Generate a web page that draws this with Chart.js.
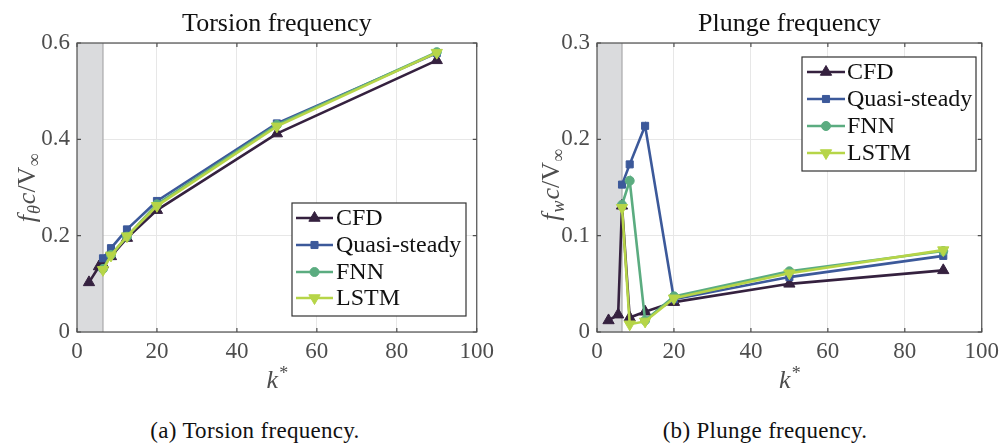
<!DOCTYPE html>
<html>
<head>
<meta charset="utf-8">
<script src="https://cdn.jsdelivr.net/npm/chart.js@4/dist/chart.umd.min.js"></script>
<style>
  html, body { margin: 0; padding: 0; background: #fff; }
  #wrap { position: relative; width: 1005px; height: 448px; overflow: hidden; }
  canvas { position: absolute; top: 0; }
  .cap { position: absolute; top: 418px; font-family: "Liberation Serif", serif; font-size: 23px; letter-spacing: 0.3px; color: #111; white-space: nowrap; transform: translateX(-50%); }
  .pre { position: absolute; left: -9999px; font-family: "Liberation Serif"; }
</style>
</head>
<body>
<div id="wrap">
  <canvas id="c1" width="500" height="400" style="left:0;width:500px;height:400px"></canvas>
  <canvas id="c2" width="505" height="400" style="left:500px;width:505px;height:400px"></canvas>
  <div class="cap" style="left:255px">(a) Torsion frequency.</div>
  <div class="cap" style="left:765px">(b) Plunge frequency.</div>
  <span class="pre">x<i>x</i></span>
</div>
<script>
// ---------- data ----------
const seriesNames = ["CFD", "Quasi-steady", "FNN", "LSTM"];
const kCFD   = [3, 5.5, 6.5, 8.5, 12.5, 20, 50, 90];
const kModel = [6.5, 8.5, 12.5, 20, 50, 90];

const torsionCFD  = [0.103, 0.136, 0.140, 0.157, 0.195, 0.253, 0.412, 0.564];
const torsionQS   = [0.153, 0.174, 0.213, 0.272, 0.433, 0.579];
const torsionFNN  = [0.131, 0.160, 0.198, 0.265, 0.430, 0.581];
const torsionLSTM = [0.129, 0.159, 0.199, 0.262, 0.427, 0.580];

const plungeCFD  = [0.012, 0.018, 0.131, 0.015, 0.021, 0.031, 0.050, 0.064];
const plungeQS   = [0.153, 0.174, 0.214, 0.034, 0.057, 0.079];
const plungeFNN  = [0.132, 0.157, 0.012, 0.037, 0.063, 0.084];
const plungeLSTM = [0.129, 0.008, 0.011, 0.035, 0.061, 0.085];

const shadedMaxK = 6.5;
const xTicksMax = 100;

// ---------- styles ----------
const colors = ["#35213f", "#3c599a", "#5bac80", "#b6d548"];
const pStyles = ["triangle", "rect", "circle", "triangle"];
const pRot = [0, 0, 0, 180];
const pRad = [6.5, 5, 4.5, 6.5];
const SERIF = '"Liberation Serif", "Times New Roman", serif';
const frameColor = "#4f4f4f";
const tickColor = "#4d4d4d";

function pts(xs, ys) { return xs.map((x, i) => ({ x: x, y: ys[i] })); }

function makeDatasets(cfd, qs, fnn, lstm) {
  const arr = [pts(kCFD, cfd), pts(kModel, qs), pts(kModel, fnn), pts(kModel, lstm)];
  return arr.map((d, i) => ({
    label: seriesNames[i],
    data: d,
    borderColor: colors[i],
    backgroundColor: colors[i],
    borderWidth: 2.6,
    pointStyle: pStyles[i],
    pointRotation: pRot[i],
    pointRadius: pRad[i],
    pointBorderWidth: 1,
    pointBorderColor: colors[i],
    pointBackgroundColor: colors[i],
    order: 4 - i,
    tension: 0,
    clip: false
  }));
}

function drawMathY(ctx, cx, cy, subChar) {
  ctx.save();
  ctx.translate(cx, cy);
  ctx.rotate(-Math.PI / 2);
  ctx.fillStyle = tickColor;
  ctx.textBaseline = "alphabetic";
  const big = 26, small = 18;
  const parts = [
    { t: "f", f: "italic " + big + "px " + SERIF, dy: 0, gap: 1 },
    { t: subChar, f: "italic " + small + "px " + SERIF, dy: 5, gap: 1 },
    { t: "c", f: "italic " + big + "px " + SERIF, dy: 0, gap: 0 },
    { t: "/V", f: big + "px " + SERIF, dy: 0, gap: 0 },
    { t: "\u221E", f: small + "px " + SERIF, dy: 5, gap: 0 }
  ];
  let total = 0;
  parts.forEach(p => { ctx.font = p.f; p.w = ctx.measureText(p.t).width; total += p.w + p.gap; });
  let x = -total / 2;
  parts.forEach(p => { ctx.font = p.f; ctx.fillText(p.t, x, 8 + p.dy); x += p.w + p.gap; });
  ctx.restore();
}

function drawK(ctx, cx, baseline) {
  ctx.save();
  ctx.fillStyle = tickColor;
  ctx.textBaseline = "alphabetic";
  ctx.font = "italic 26px " + SERIF;
  const wk = ctx.measureText("k").width;
  ctx.font = "18px " + SERIF;
  const ws = ctx.measureText("*").width;
  const x0 = cx - (wk + ws) / 2;
  ctx.font = "italic 26px " + SERIF;
  ctx.fillText("k", x0, baseline);
  ctx.font = "18px " + SERIF;
  ctx.fillText("*", x0 + wk + 1, baseline - 9);
  ctx.restore();
}

function makePlugin(opt) {
  return {
    id: "deco" + opt.id,
    beforeDatasetsDraw(chart) {
      const { ctx, chartArea: a, scales: { x } } = chart;
      const xr = x.getPixelForValue(shadedMaxK);
      ctx.save();
      ctx.fillStyle = "#dadbdd";
      ctx.fillRect(a.left, a.top, xr - a.left, a.bottom - a.top);
      ctx.strokeStyle = "#a9a9ab";
      ctx.lineWidth = 1.2;
      ctx.beginPath();
      ctx.moveTo(xr, a.top); ctx.lineTo(xr, a.bottom);
      ctx.stroke();
      ctx.restore();
    },
    afterDraw(chart) {
      const { ctx, chartArea: a, scales: { x, y } } = chart;
      ctx.save();
      ctx.strokeStyle = frameColor;
      ctx.lineWidth = 1.2;
      ctx.strokeRect(a.left, a.top, a.right - a.left, a.bottom - a.top);
      ctx.beginPath();
      x.ticks.forEach(t => {
        const px = x.getPixelForValue(t.value);
        ctx.moveTo(px, a.bottom); ctx.lineTo(px, a.bottom - 4);
        ctx.moveTo(px, a.top); ctx.lineTo(px, a.top + 4);
      });
      y.ticks.forEach(t => {
        const py = y.getPixelForValue(t.value);
        ctx.moveTo(a.left, py); ctx.lineTo(a.left + 4, py);
        ctx.moveTo(a.right, py); ctx.lineTo(a.right - 4, py);
      });
      ctx.stroke();

      ctx.fillStyle = "#111";
      ctx.font = "26px " + SERIF;
      ctx.textAlign = "center";
      ctx.textBaseline = "alphabetic";
      ctx.fillText(opt.title, (a.left + a.right) / 2, 31);
      ctx.textAlign = "left";

      drawMathY(ctx, opt.ylabX, opt.ylabY, opt.sub);
      drawK(ctx, (a.left + a.right) / 2, 388);

      const L = opt.legend;
      ctx.fillStyle = "#fff";
      ctx.fillRect(L.x0, L.y0, L.x1 - L.x0, L.y1 - L.y0);
      ctx.strokeStyle = "#333";
      ctx.lineWidth = 1.2;
      ctx.strokeRect(L.x0, L.y0, L.x1 - L.x0, L.y1 - L.y0);
      chart.data.datasets.forEach((ds, i) => {
        const yy = L.rows[i];
        ctx.strokeStyle = ds.borderColor;
        ctx.lineWidth = 2.6;
        ctx.beginPath();
        ctx.moveTo(L.lx0, yy); ctx.lineTo(L.lx1, yy);
        ctx.stroke();
        ctx.fillStyle = ds.backgroundColor;
        ctx.strokeStyle = ds.borderColor;
        ctx.lineWidth = 1;
        Chart.helpers.drawPoint(ctx, {
          pointStyle: ds.pointStyle, rotation: ds.pointRotation,
          radius: ds.pointRadius, borderWidth: 1
        }, (L.lx0 + L.lx1) / 2, yy);
        ctx.fillStyle = "#111";
        ctx.font = "24px " + SERIF;
        ctx.textBaseline = "middle";
        ctx.fillText(ds.label, L.tx, yy + 1);
      });
      ctx.restore();
    }
  };
}

function makeChart(id, cw, plot, datasets, yMax, yStep, plugin) {
  return new Chart(document.getElementById(id), {
    type: "line",
    data: { datasets: datasets },
    options: {
      responsive: false,
      animation: false,
      devicePixelRatio: 1,
      layout: { padding: { left: 0, right: cw - plot.right, top: plot.top, bottom: 0 } },
      plugins: { legend: { display: false }, tooltip: { enabled: false }, title: { display: false } },
      scales: {
        x: {
          type: "linear", min: 0, max: xTicksMax,
          ticks: { stepSize: 20, color: tickColor, font: { family: SERIF, size: 23 }, padding: 6, maxRotation: 0 },
          grid: { color: "#e7e7e7", lineWidth: 1, drawTicks: false },
          border: { display: false },
          afterFit: s => { s.height = 400 - plot.bottom; }
        },
        y: {
          type: "linear", min: 0, max: yMax,
          ticks: { stepSize: yStep, color: tickColor, font: { family: SERIF, size: 23 }, padding: 7,
                   callback: v => String(+v.toFixed(2)) },
          grid: { color: "#e7e7e7", lineWidth: 1, drawTicks: false },
          border: { display: false },
          afterFit: s => { s.width = plot.left; }
        }
      }
    },
    plugins: [plugin]
  });
}

function build() {
  return [
    makeChart("c1", 500, { left: 77, right: 479, top: 43, bottom: 332 },
      makeDatasets(torsionCFD, torsionQS, torsionFNN, torsionLSTM), 0.6, 0.2,
      makePlugin({
        id: 1, title: "Torsion frequency", sub: "\u03B8", ylabX: 27, ylabY: 188,
        legend: { x0: 292, y0: 203, x1: 466, y1: 316, lx0: 296, lx1: 333, tx: 336, rows: [218, 245, 272, 298] }
      })),
    makeChart("c2", 505, { left: 97, right: 487, top: 43, bottom: 332 },
      makeDatasets(plungeCFD, plungeQS, plungeFNN, plungeLSTM), 0.3, 0.1,
      makePlugin({
        id: 2, title: "Plunge frequency", sub: "w", ylabX: 51, ylabY: 185,
        legend: { x0: 302, y0: 57, x1: 476, y1: 171, lx0: 307, lx1: 345, tx: 347, rows: [72, 99, 126, 153] }
      }))
  ];
}

const charts = build();
const fontLoads = [
  '26px "Liberation Serif"', 'italic 26px "Liberation Serif"'
].map(f => document.fonts.load(f));
Promise.all(fontLoads).then(() => document.fonts.ready).then(() => {
  charts.forEach(c => c.update("none"));
});
</script>
</body>
</html>
